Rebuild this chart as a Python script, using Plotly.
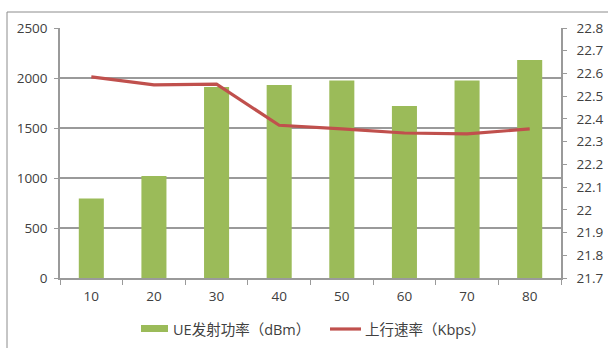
import plotly.graph_objects as go

categories = ["10", "20", "30", "40", "50", "60", "70", "80"]
power_values = [795, 1020, 1910, 1930, 1975, 1720, 1975, 2180]
rate_values = [22.585, 22.550, 22.553, 22.372, 22.356, 22.338, 22.334, 22.356]
series_names = ["UE发射功率（dBm）", "上行速率（Kbps）"]
left_ticks = [0, 500, 1000, 1500, 2000, 2500]
right_ticks = [21.7, 21.8, 21.9, 22.0, 22.1, 22.2, 22.3, 22.4, 22.5, 22.6, 22.7, 22.8]
right_labels = ["21.7", "21.8", "21.9", "22", "22.1", "22.2", "22.3", "22.4", "22.5", "22.6", "22.7", "22.8"]

GREEN = "#9BBB59"
RED = "#C0504D"
GRID = "#9a9a9a"
TXT = "#404040"
FONT = "Open Sans, Noto Sans CJK SC, sans-serif"

W, H = 608, 348
L, R, T, B = 60, 47, 28, 70
pw, ph = W - L - R, H - T - B

def px_x(x):
    return (x - L) / pw

def px_y(y):
    return (H - B - y) / ph

fig = go.Figure()
fig.add_trace(go.Bar(x=categories, y=power_values, name=series_names[0],
                     marker=dict(color=GREEN, line=dict(width=0)), width=0.4,
                     yaxis="y", showlegend=False))
fig.add_trace(go.Scatter(x=categories, y=rate_values, name=series_names[1],
                         mode="lines", line=dict(color=RED, width=3.2),
                         yaxis="y2", showlegend=False))

shapes = [
    # outer chart border
    dict(type="rect", xref="paper", yref="paper",
         x0=px_x(7), x1=px_x(612), y0=px_y(352), y1=px_y(12),
         line=dict(color="#8c8c8c", width=1), fillcolor="rgba(0,0,0,0)", layer="below"),
    # legend symbols
    dict(type="rect", xref="paper", yref="paper",
         x0=px_x(141), x1=px_x(168), y0=px_y(332), y1=px_y(325),
         line=dict(width=0), fillcolor=GREEN),
    dict(type="line", xref="paper", yref="paper",
         x0=px_x(330), x1=px_x(361), y0=px_y(329), y1=px_y(329),
         line=dict(color=RED, width=3.2)),
]
annotations = [
    dict(text=series_names[0], xref="paper", yref="paper", x=px_x(171), y=px_y(329),
         xanchor="left", yanchor="middle", showarrow=False,
         font=dict(size=14.5, color=TXT, family=FONT)),
    dict(text=series_names[1], xref="paper", yref="paper", x=px_x(363), y=px_y(329),
         xanchor="left", yanchor="middle", showarrow=False,
         font=dict(size=14.5, color=TXT, family=FONT)),
]

fig.update_layout(
    width=W, height=H,
    margin=dict(l=L, r=R, t=T, b=B, autoexpand=False),
    paper_bgcolor="white", plot_bgcolor="white",
    font=dict(family=FONT, size=13.5, color=TXT),
    bargap=0.6,
    xaxis=dict(type="category", showline=True, linecolor=GRID, linewidth=1.5,
               ticks="outside", tickson="boundaries", ticklen=5, tickcolor=GRID,
               showgrid=False, ticklabelstandoff=5, automargin=False,
               tickfont=dict(size=13.5, color=TXT)),
    yaxis=dict(range=[0, 2500], tickvals=left_ticks, showline=True, linecolor=GRID,
               linewidth=1.5, ticks="outside", ticklen=4, tickcolor=GRID,
               showgrid=True, gridcolor=GRID, gridwidth=1.5, zeroline=False,
               ticklabelstandoff=4, automargin=False,
               tickfont=dict(size=13.5, color=TXT)),
    yaxis2=dict(range=[21.7, 22.8], tickvals=right_ticks, ticktext=right_labels,
                overlaying="y", side="right", showline=True, linecolor=GRID,
                linewidth=1.5, ticks="outside", ticklen=4, tickcolor=GRID,
                showgrid=False, zeroline=False, ticklabelstandoff=7, automargin=False,
                tickfont=dict(size=13.5, color=TXT)),
    shapes=shapes, annotations=annotations,
)

fig.write_html("out.html")
